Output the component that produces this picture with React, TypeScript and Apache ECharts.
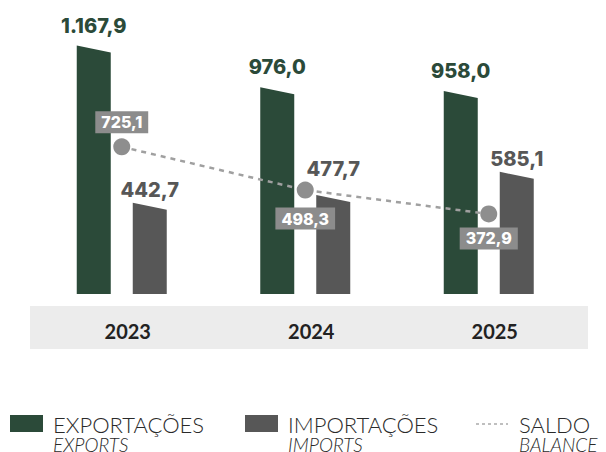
import React, { useEffect, useRef } from "react";
import * as echarts from "echarts";

const categories = ["2023", "2024", "2025"];
const exportsValues = [1167.9, 976.0, 958.0];
const importsValues = [442.7, 477.7, 585.1];
const balanceValues = [725.1, 498.3, 372.9];

const legendTitles = ["EXPORTAÇÕES", "IMPORTAÇÕES", "SALDO"];
const legendSubtitles = ["EXPORTS", "IMPORTS", "BALANCE"];

// style config
const GREEN = "#2b4a39";
const GRAY = "#575757";
const BOX = "#8c8c8c";
const Y_MIN = 37;
const Y_MAX = 1307;
const Y2_MIN = -47;
const Y2_MAX = 1396;
const BAR_W = 34;
const BAR_OFF = 28;
const SLANT = 7;
const NUM_FONT = "Inter";
const importsLabelLift = [0, 13.5, 0];
const balanceLabelPos = ["top", "bottom", "bottom"];
const balanceLabelDist = [5, 9, 5];

function fmt(v: number): string {
  const fixed = v.toFixed(1);
  const [intPart, dec] = fixed.split(".");
  const withDots = intPart.replace(/\B(?=(\d{3})+(?!\d))/g, ".");
  return withDots + "," + dec;
}

function makeBarRender(offset: number, color: string, labelColor: string, gap: number, lifts: number[]) {
  return (params: any, api: any) => {
    const idx = api.value(0);
    const v = api.value(1);
    const top = api.coord([idx, v]);
    const bottom = api.coord([idx, Y_MIN]);
    const cx = top[0] + offset;
    const x0 = cx - BAR_W / 2;
    const x1 = cx + BAR_W / 2;
    const yl = top[1] - SLANT / 2;
    const yr = top[1] + SLANT / 2;
    const lift = lifts[params.dataIndex] || 0;
    return {
      type: "group",
      children: [
        {
          type: "polygon",
          shape: { points: [[x0, yl], [x1, yr], [x1, bottom[1]], [x0, bottom[1]]] },
          style: { fill: color },
        },
        {
          type: "text",
          style: {
            text: fmt(v),
            x: cx,
            y: yl - gap - lift,
            align: "center",
            verticalAlign: "bottom",
            fill: labelColor,
            fontFamily: NUM_FONT,
            fontWeight: 800,
            fontSize: 20,
          },
        },
      ],
    };
  };
}

export default function App() {
  const ref = useRef<HTMLDivElement>(null);
  useEffect(() => {
    document.body.style.margin = "0";
    if (!ref.current) return;
    const chart = echarts.init(ref.current, undefined, { renderer: "svg" });
    const legendFont = "Lato";
    const legendColor = "#2a2a2a";
    const titleStyle = { verticalAlign: "middle", fill: legendColor, fontFamily: legendFont, fontWeight: 300, fontSize: 22, lineHeight: 16 };
    const subStyle = { verticalAlign: "middle", fill: legendColor, fontFamily: legendFont, fontWeight: 300, fontStyle: "italic", fontSize: 19, lineHeight: 14 };
    chart.setOption({
      animation: false,
      backgroundColor: "#ffffff",
      grid: { left: 30, right: 25.5, top: 19, bottom: 158 },
      xAxis: {
        type: "category",
        data: categories,
        axisLine: { show: false },
        axisTick: { show: false },
        splitLine: { show: false },
        axisLabel: {
          margin: 37,
          verticalAlign: "middle",
          color: "#222222",
          fontFamily: "Lato",
          fontWeight: 700,
          fontSize: 20,
          padding: [0, 0, 0, 12],
        },
        z: 5,
      },
      yAxis: [
        { type: "value", min: Y_MIN, max: Y_MAX, show: false, splitLine: { show: false } },
        { type: "value", min: Y2_MIN, max: Y2_MAX, show: false, splitLine: { show: false } },
      ],
      graphic: [
        {
          type: "rect",
          left: 30,
          top: 306,
          shape: { width: 558, height: 43 },
          style: { fill: "#ececec" },
          z: -10,
          silent: true,
        },
        // legend 1
        { type: "rect", shape: { x: 10, y: 415, width: 33, height: 17 }, style: { fill: GREEN } },
        { type: "text", style: { ...titleStyle, text: legendTitles[0], x: 53, y: 424 } },
        { type: "text", style: { ...subStyle, text: legendSubtitles[0], x: 53, y: 444 } },
        // legend 2
        { type: "rect", shape: { x: 245, y: 415, width: 33, height: 17 }, style: { fill: GRAY } },
        { type: "text", style: { ...titleStyle, text: legendTitles[1], x: 288, y: 424 } },
        { type: "text", style: { ...subStyle, text: legendSubtitles[1], x: 288, y: 444 } },
        // legend 3
        {
          type: "line",
          shape: { x1: 476, y1: 424, x2: 508, y2: 424 },
          style: { stroke: "#aaaaaa", lineWidth: 1.5, lineDash: [3, 3] },
        },
        { type: "text", style: { ...titleStyle, text: legendTitles[2], x: 519, y: 424 } },
        { type: "text", style: { ...subStyle, text: legendSubtitles[2], x: 519, y: 444 } },
      ],
      series: [
        {
          type: "custom",
          name: "EXPORTAÇÕES",
          renderItem: makeBarRender(-BAR_OFF, GREEN, GREEN, 10, [0, 0, 0]),
          data: exportsValues.map((v, i) => [i, v]),
          encode: { x: 0, y: 1 },
          z: 2,
        },
        {
          type: "custom",
          name: "IMPORTAÇÕES",
          renderItem: makeBarRender(BAR_OFF, GRAY, GRAY, 3, importsLabelLift),
          data: importsValues.map((v, i) => [i, v]),
          encode: { x: 0, y: 1 },
          z: 2,
        },
        {
          type: "line",
          name: "SALDO",
          yAxisIndex: 1,
          z: 4,
          symbol: "circle",
          symbolSize: 17,
          itemStyle: { color: "#8e8e8e" },
          lineStyle: { color: "#a0a0a0", width: 2.5, type: [5, 5] },
          data: balanceValues.map((v, i) => ({
            value: v,
            label: { position: balanceLabelPos[i], distance: balanceLabelDist[i] },
          })),
          label: {
            show: true,
            formatter: (p: any) => fmt(p.value),
            backgroundColor: BOX,
            color: "#ffffff",
            fontFamily: NUM_FONT,
            fontWeight: 800,
            fontSize: 16,
            padding: [3, 6, 3, 6],
          },
        },
      ],
    });
    return () => chart.dispose();
  }, []);
  return <div ref={ref} style={{ width: 606, height: 452 }} />;
}
